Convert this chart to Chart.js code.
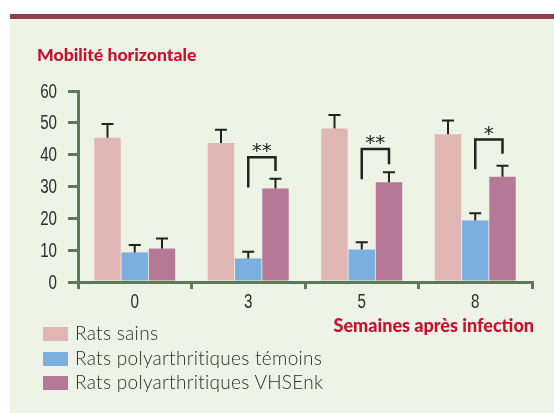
<!DOCTYPE html>
<html>
<head>
<meta charset="utf-8">
<script src="https://cdn.jsdelivr.net/npm/chart.js@4"></script>
<style>
  html, body { margin: 0; padding: 0; background: #fff; }
  #wrap { position: relative; width: 554px; height: 413px; overflow: hidden; }
  #panel { position: absolute; left: 10px; top: 14px; right: 0; bottom: 0; background: #eef4e5; }
  #band { position: absolute; left: 10px; top: 14px; right: 0; height: 5px; background: #8f3e4a; }
  canvas { position: absolute; left: 0; top: 0; }
  .red { position: absolute; color: #c8102e; font-family: Lato, "Open Sans", sans-serif; font-weight: 900; font-size: 18px; white-space: nowrap; }
  #legend { position: absolute; left: 43px; top: 322px; font-family: Lato, sans-serif; font-weight: 300; font-size: 19px; letter-spacing: 0.3px; color: #2a2a2a; }
  #legend div { height: 24.5px; line-height: 22px; white-space: nowrap; }
  #legend span { display: inline-block; width: 25px; height: 14px; margin-right: 7px; vertical-align: -1px; }
</style>
</head>
<body>
<div id="wrap">
  <div id="panel"></div>
  <div id="band"></div>
  <canvas id="chart" width="554" height="413"></canvas>
  <div class="red" style="left:37px; top:44px; font-size:17.6px;">Mobilité horizontale</div>
  <div class="red" style="right:20px; top:314px;">Semaines après infection</div>
  <div id="legend"></div>
</div>
<script>
document.addEventListener('DOMContentLoaded', () => {
    // weeks after infection
    const weeks = ['0', '3', '5', '8'];
    const seriesNames = ['Rats sains', 'Rats polyarthritiques témoins', 'Rats polyarthritiques VHSEnk'];
    const colors = ['#e0b6b4', '#7aafdf', '#b57896'];

    const healthy = [45.3, 43.7, 48.2, 46.4];
    const healthyErr = [4.3, 4.1, 4.3, 4.3];
    const controls = [9.3, 7.4, 10.2, 19.3];
    const controlsErr = [2.3, 2.1, 2.3, 2.3];
    const treated = [10.5, 29.4, 31.3, 33.1];
    const treatedErr = [3.2, 3.0, 3.2, 3.4];

    // significance brackets between controls and treated
    const sigLabels = ['', '**', '**', '*'];
    const sigTop = [null, 39.2, 41.8, 44.8];
    const sigLeftEnd = [null, 29.7, 32.3, 35.4];
    const sigRightEnd = [null, 34.9, 37.0, 40.3];

    const yTicks = [0, 10, 20, 30, 40, 50, 60];

    const axisGreen = '#5b7b58';

    const allValues = [healthy, controls, treated];
    const allErrors = [healthyErr, controlsErr, treatedErr];

    // legend as html
    const legend = document.getElementById('legend');
    seriesNames.forEach((name, i) => {
        const row = document.createElement('div');
        row.innerHTML = '<span style="background:' + colors[i] + '"></span>' + name;
        legend.appendChild(row);
    });

    // narrow tick labels (no condensed font installed, so squeeze them)
    const narrowTicks = {
        id: 'narrowTicks',
        afterDraw(chart) {
            const ctx = chart.ctx;
            ctx.save();
            ctx.fillStyle = '#2e2e2e';
            ctx.font = '20.5px "Liberation Sans", sans-serif';
            ctx.textBaseline = 'middle';
            const ys = chart.scales.y;
            ctx.textAlign = 'right';
            ys.ticks.forEach((t, i) => {
                ctx.save();
                ctx.translate(ys.right - 21, ys.getPixelForTick(i) + 1);
                ctx.scale(0.74, 1);
                ctx.fillText(String(t.label), 0, 0);
                ctx.restore();
            });
            const xs = chart.scales.x;
            ctx.textAlign = 'center';
            xs.ticks.forEach((t, i) => {
                ctx.save();
                ctx.translate(xs.getPixelForTick(i), xs.top + 20);
                ctx.scale(0.74, 1);
                ctx.fillText(String(t.label), 0, 0);
                ctx.restore();
            });
            ctx.restore();
        }
    };

    const errorBars = {
        id: 'errorBars',
        afterDatasetsDraw(chart) {
            const ctx = chart.ctx;
            const y = chart.scales.y;
            ctx.save();
            ctx.strokeStyle = '#222';
            ctx.lineWidth = 2;
            chart.data.datasets.forEach((ds, d) => {
                chart.getDatasetMeta(d).data.forEach((bar, i) => {
                    const top = y.getPixelForValue(allValues[d][i] + allErrors[d][i]);
                    ctx.beginPath();
                    ctx.moveTo(bar.x, bar.y);
                    ctx.lineTo(bar.x, top);
                    ctx.moveTo(bar.x - 6, top);
                    ctx.lineTo(bar.x + 6, top);
                    ctx.stroke();
                });
            });
            // brackets
            ctx.lineWidth = 2.5;
            ctx.fillStyle = '#222';
            ctx.font = '20px "DejaVu Sans", sans-serif';
            ctx.textAlign = 'center';
            ctx.textBaseline = 'middle';
            sigLabels.forEach((lab, i) => {
                if (!lab) return;
                const x1 = chart.getDatasetMeta(1).data[i].x;
                const x2 = chart.getDatasetMeta(2).data[i].x;
                const t = y.getPixelForValue(sigTop[i]);
                ctx.beginPath();
                ctx.moveTo(x1, y.getPixelForValue(sigLeftEnd[i]));
                ctx.lineTo(x1, t);
                ctx.lineTo(x2, t);
                ctx.lineTo(x2, y.getPixelForValue(sigRightEnd[i]));
                ctx.stroke();
                ctx.fillText(lab, (x1 + x2) / 2, t - 5);
            });
            ctx.restore();
        }
    };

    new Chart(document.getElementById('chart').getContext('2d'), {
        type: 'bar',
        data: {
            labels: weeks,
            datasets: seriesNames.map((name, i) => ({
                label: name,
                data: allValues[i],
                backgroundColor: colors[i],
                borderWidth: 0,
                categoryPercentage: 0.72,
                barPercentage: 0.97
            }))
        },
        options: {
            responsive: false,
            animation: false,
            layout: { padding: { left: 0, right: 22, top: 91, bottom: 101 } },
            plugins: {
                legend: { display: false },
                tooltip: { enabled: false }
            },
            scales: {
                y: {
                    min: 0,
                    max: 60,
                    afterFit: (scale) => { scale.width = 78; },
                    afterBuildTicks: (scale) => { scale.ticks = yTicks.map(v => ({ value: v })); },
                    ticks: { display: false },
                    grid: { drawOnChartArea: false, color: axisGreen, lineWidth: 3, tickLength: 10 },
                    border: { display: true, color: axisGreen, width: 3 }
                },
                x: {
                    afterFit: (scale) => { scale.height = 30; },
                    ticks: { display: false },
                    grid: { drawOnChartArea: false, offset: true, color: axisGreen, lineWidth: 3, tickLength: 7 },
                    border: { display: true, color: axisGreen, width: 3 }
                }
            }
        },
        plugins: [errorBars, narrowTicks]
    });
});
</script>
</body>
</html>
